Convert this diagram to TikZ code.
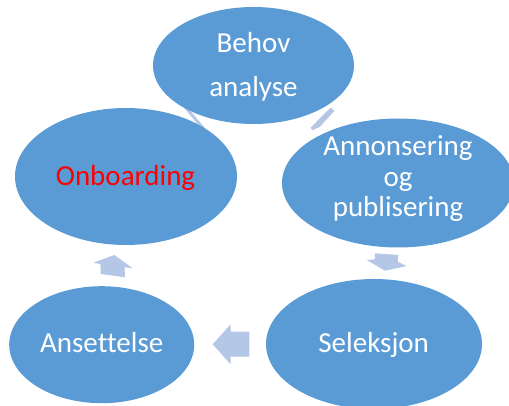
\documentclass[tikz,border=0pt]{standalone}
\usepackage{fontspec}
\setmainfont[Ligatures=NoCommon]{Carlito}
\definecolor{blobblue}{HTML}{5B9BD5}
\definecolor{arrowblue}{HTML}{B4C7E7}
\definecolor{onbred}{HTML}{FF0000}
\tikzset{
  blob/.style={ellipse, fill=blobblue, draw=none, inner sep=0pt},
  lbl/.style={anchor=base, text=white, inner sep=0pt, font=\fontsize{29}{30}\selectfont},
  arr/.style={fill=arrowblue, draw=none},
}
\usetikzlibrary{shapes.geometric}
\begin{document}
\begin{tikzpicture}[x=1pt,y=-1pt]
\useasboundingbox (0,0) rectangle (509,406);
% arrows (behind the ellipses)
\fill[arr] (184,107.8) -- (186.6,106.4) -- (204.6,127.6) -- (202.2,129.4) -- cycle;
\fill[arr] (331,107.7) -- (334.3,111) -- (320,126.7) -- (312.3,130.3) -- (310.7,127.7) -- (325.7,112.3) -- cycle;
\fill[arr] (375,253.3) -- (398.3,255) -- (397.7,261.8) -- (406.7,266) -- (385,270.7) -- (366.7,260) -- (374.7,259.3) -- cycle;
\fill[arr] (249.3,331.7) -- (230.7,331.7) -- (230.7,324.3) -- (212.7,344.3) -- (230.7,364.3) -- (230.7,356.7) -- (249.3,356.7) -- cycle;
\fill[arr] (114.3,255) -- (132.7,268.3) -- (124.5,267.1) -- (125,277.3) -- (100.7,274) -- (100.4,264) -- (93.3,262.7) -- cycle;
% ellipses
\node[blob, minimum width=201pt, minimum height=117pt] (behov) at (253.5,65.5) {};
\node[blob, minimum width=232pt, minimum height=129pt] (annon) at (398,183) {};
\node[blob, minimum width=216pt, minimum height=130pt] (selek) at (374,344) {};
\node[blob, minimum width=185pt, minimum height=117pt] (anset) at (101.7,344.7) {};
\node[blob, minimum width=222pt, minimum height=137pt] (onb) at (126,176.5) {};
% labels
\node[lbl] (behov1) at (253.5,52.7) {Behov};
\node[lbl] (behov2) at (253.5,96.7) {analyse};
\node[lbl] (annon1) at (398,156) {Annonsering};
\node[lbl] (annon2) at (398,187) {og};
\node[lbl] (annon3) at (398,216.7) {publisering};
\node[lbl] (selek1) at (373.7,352.7) {Seleksjon};
\node[lbl] (anset1) at (101.7,352.7) {Ansettelse};
\node[lbl, text=onbred] (onb1) at (125.5,185.7) {Onboarding};
\end{tikzpicture}
\end{document}
